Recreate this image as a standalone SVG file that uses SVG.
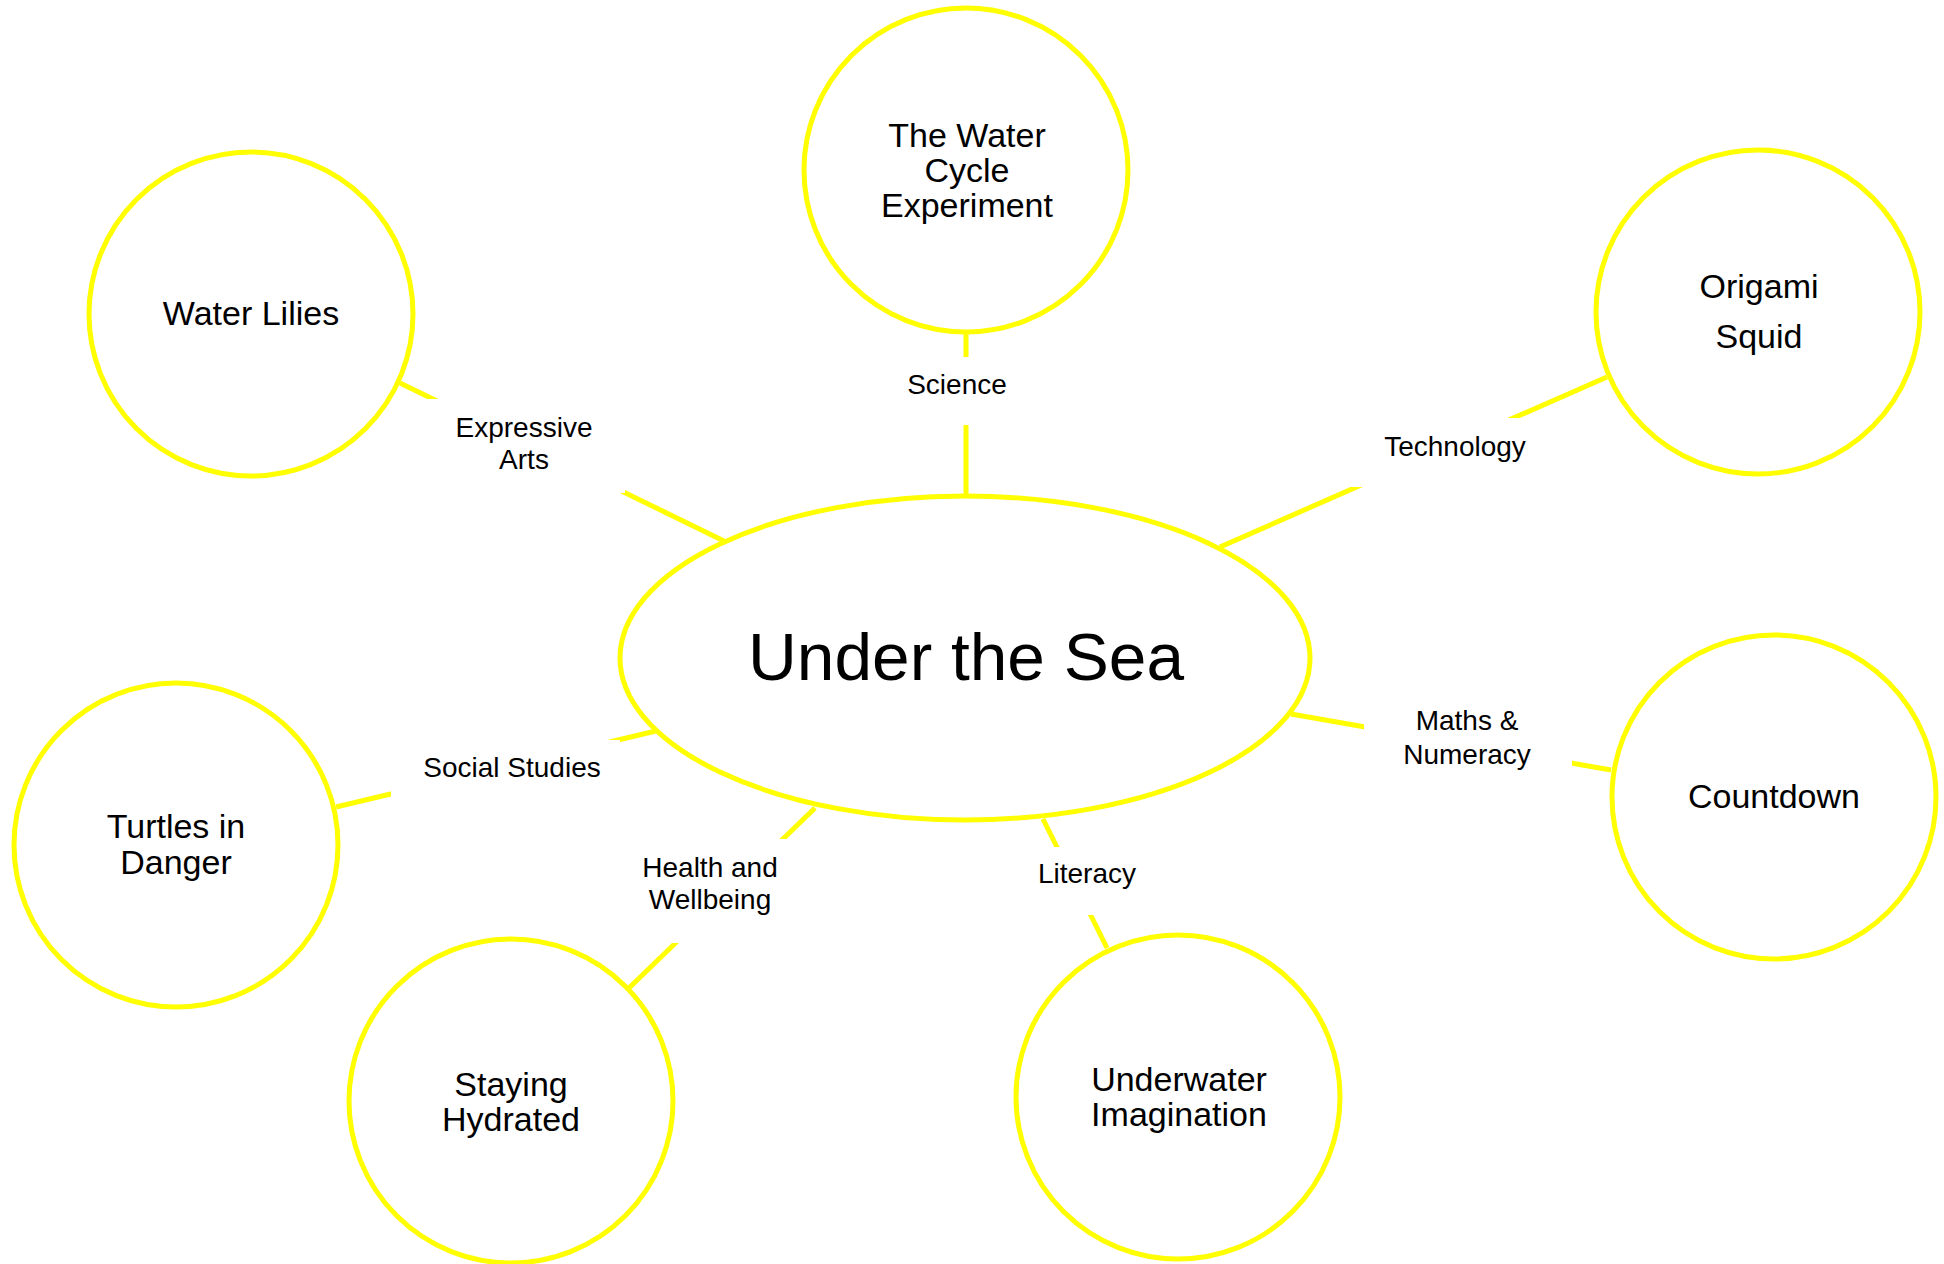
<svg xmlns="http://www.w3.org/2000/svg" width="1944" height="1264" viewBox="0 0 1944 1264">
  <style>
    .node { fill: #ffffff; stroke: #ffff00; stroke-width: 5; }
    .link { stroke: #ffff00; stroke-width: 5; fill: none; }
    .gap { fill: #ffffff; stroke: none; }
    .ntext { font-family: "Liberation Sans", Arial, sans-serif; font-size: 34px; fill: #000000; text-anchor: middle; }
    .ltext { font-family: "Liberation Sans", Arial, sans-serif; font-size: 28px; fill: #000000; text-anchor: middle; }
    .title { font-family: "Liberation Sans", Arial, sans-serif; font-size: 66px; fill: #000000; text-anchor: middle; }
  </style>
  <rect width="1944" height="1264" fill="#ffffff"/>

  <!-- connectors: spoke line, white label backing, subject label -->
  <g id="connectors">
    <g id="link-science">
      <line class="link" x1="966" y1="333" x2="966" y2="498"/>
      <rect class="gap" x="915" y="357" width="100" height="68"/>
      <text class="ltext" x="957" y="394">Science</text>
    </g>
    <g id="link-expressive-arts">
      <line class="link" x1="400" y1="383" x2="724" y2="541"/>
      <rect class="gap" x="425" y="399" width="200" height="94"/>
      <text class="ltext" x="524" y="437">Expressive</text>
      <text class="ltext" x="524" y="469">Arts</text>
    </g>
    <g id="link-technology">
      <line class="link" x1="1607" y1="377" x2="1220" y2="547"/>
      <rect class="gap" x="1350" y="418" width="190" height="69"/>
      <text class="ltext" x="1455" y="456">Technology</text>
    </g>
    <g id="link-social-studies">
      <line class="link" x1="336" y1="807" x2="656" y2="731"/>
      <rect class="gap" x="391" y="740" width="229" height="70"/>
      <text class="ltext" x="512" y="777">Social Studies</text>
    </g>
    <g id="link-health">
      <line class="link" x1="815" y1="808" x2="629" y2="988"/>
      <rect class="gap" x="640" y="839" width="155" height="104"/>
      <text class="ltext" x="710" y="877">Health and</text>
      <text class="ltext" x="710" y="909">Wellbeing</text>
    </g>
    <g id="link-literacy">
      <line class="link" x1="1043" y1="819" x2="1107" y2="948"/>
      <rect class="gap" x="1030" y="847" width="115" height="68"/>
      <text class="ltext" x="1087" y="883">Literacy</text>
    </g>
    <g id="link-maths">
      <line class="link" x1="1291" y1="714" x2="1611" y2="770"/>
      <rect class="gap" x="1364" y="700" width="208" height="80"/>
      <text class="ltext" x="1467" y="730">Maths &amp;</text>
      <text class="ltext" x="1467" y="764">Numeracy</text>
    </g>
  </g>

  <!-- central topic -->
  <g id="under-the-sea">
    <ellipse class="node" cx="965" cy="658" rx="345" ry="162"/>
    <text class="title" x="966" y="680" textLength="436" lengthAdjust="spacingAndGlyphs">Under the Sea</text>
  </g>

  <!-- activity circles -->
  <g id="water-cycle">
    <circle class="node" cx="966" cy="170" r="162"/>
    <text class="ntext" x="967" y="147">The Water</text>
    <text class="ntext" x="967" y="182">Cycle</text>
    <text class="ntext" x="967" y="217">Experiment</text>
  </g>
  <g id="water-lilies">
    <circle class="node" cx="251" cy="314" r="162"/>
    <text class="ntext" x="251" y="325">Water Lilies</text>
  </g>
  <g id="origami-squid">
    <circle class="node" cx="1758" cy="312" r="162"/>
    <text class="ntext" x="1759" y="298">Origami</text>
    <text class="ntext" x="1759" y="348">Squid</text>
  </g>
  <g id="turtles">
    <circle class="node" cx="176" cy="845" r="162"/>
    <text class="ntext" x="176" y="838">Turtles in</text>
    <text class="ntext" x="176" y="874">Danger</text>
  </g>
  <g id="staying-hydrated">
    <circle class="node" cx="511" cy="1101" r="162"/>
    <text class="ntext" x="511" y="1096">Staying</text>
    <text class="ntext" x="511" y="1131">Hydrated</text>
  </g>
  <g id="underwater-imagination">
    <circle class="node" cx="1178" cy="1097" r="162"/>
    <text class="ntext" x="1179" y="1091">Underwater</text>
    <text class="ntext" x="1179" y="1126">Imagination</text>
  </g>
  <g id="countdown">
    <circle class="node" cx="1774" cy="797" r="162"/>
    <text class="ntext" x="1774" y="808">Countdown</text>
  </g>
</svg>
